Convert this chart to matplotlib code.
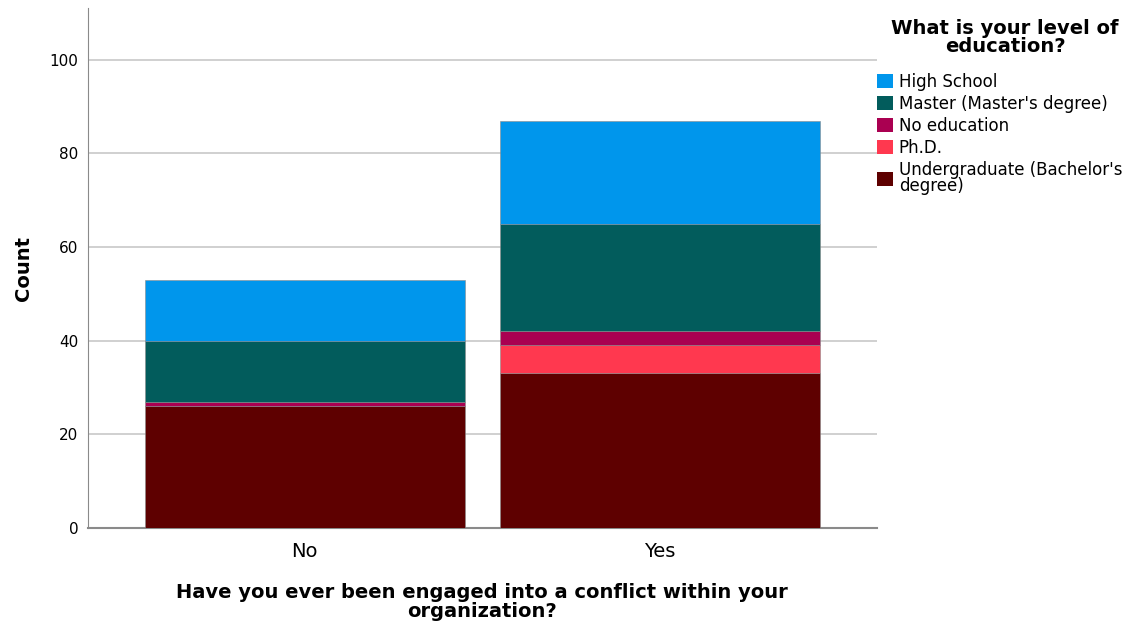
import matplotlib
matplotlib.use('Agg')
import matplotlib.pyplot as plt
import numpy as np
from matplotlib.patches import Patch

# data
groups = ['No', 'Yes']
levels = ['Undergraduate (Bachelor\'s\ndegree)', 'Ph.D.', 'No education',
          'Master (Master\'s degree)', 'High School']
undergrad = [26, 33]
phd = [0, 6]
no_edu = [1, 3]
master = [13, 23]
high_school = [13, 22]
colors = ['#5e0000', '#ff384f', '#aa0051', '#025c5c', '#0096ec']

series = [undergrad, phd, no_edu, master, high_school]

fig = plt.figure(figsize=(11.4, 6.29), dpi=100)
ax = fig.add_axes([0.0772, 0.1606, 0.6918, 0.8264])

x = np.arange(len(groups))
bottom = np.zeros(len(groups))
for vals, col in zip(series, colors):
    ax.bar(x, vals, bottom=bottom, width=0.9, color=col,
           edgecolor='#8a8a8a', linewidth=0.4, zorder=3)
    bottom += np.array(vals)

ax.set_xlim(-0.61, 1.61)
ax.set_ylim(0, 111)
ax.set_yticks([0, 20, 40, 60, 80, 100])
ax.set_xticks(x)
ax.set_xticklabels(groups, fontsize=14)
ax.tick_params(axis='y', labelsize=11, length=0, pad=7)
ax.tick_params(axis='x', length=0, pad=10)
ax.grid(axis='y', color='#c8c8c8', linewidth=1.2, zorder=0)
for s in ['top', 'right']:
    ax.spines[s].set_visible(False)
ax.spines['left'].set_color('#8a8a8a')
ax.spines['bottom'].set_color('#8a8a8a')
ax.spines['bottom'].set_linewidth(1.5)

ax.set_ylabel('Count', fontsize=14, fontweight='bold', labelpad=12)
ax.set_xlabel('Have you ever been engaged into a conflict within your\norganization?',
              fontsize=14, fontweight='bold', labelpad=16, linespacing=1.0)

# legend title drawn separately so it can sit centred above the entries
fig.text(1005 / 1140, 1 - 37.5 / 629, 'What is your level of\neducation?',
         ha='center', va='center', fontsize=14, fontweight='bold',
         linespacing=0.95, multialignment='center')

handles = [Patch(facecolor=c) for c in colors[::-1]]
leg = fig.legend(handles, levels[::-1], loc='upper left',
                 bbox_to_anchor=(877 / 1140, 1 - 73 / 629), frameon=False,
                 fontsize=12, handlelength=0.95, handleheight=0.95,
                 handletextpad=0.35, labelspacing=0.24, borderaxespad=0,
                 borderpad=0)
leg.get_texts()[-1].set_linespacing(0.85)

fig.savefig('out.png', dpi=100)
